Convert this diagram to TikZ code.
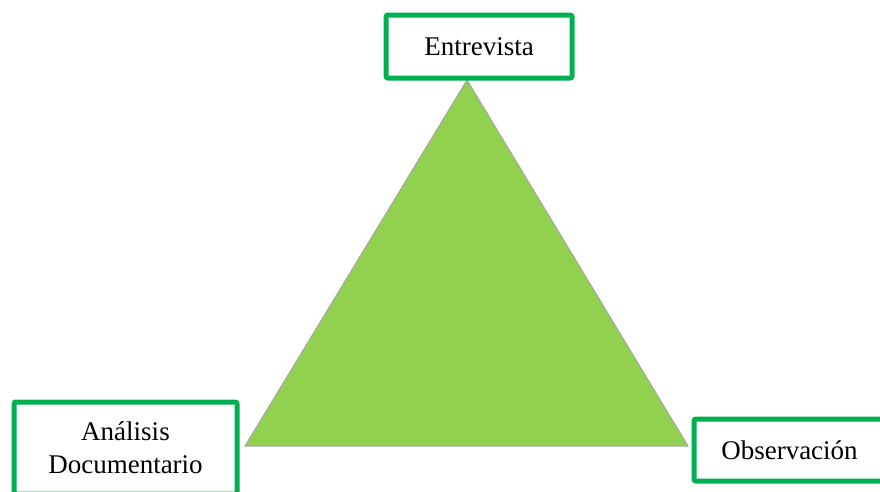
\documentclass[tikz,border=0pt]{standalone}
\usepackage{fontspec}
\setmainfont{Liberation Serif}
\definecolor{boxgreen}{HTML}{00B050}
\definecolor{trifill}{HTML}{92D050}
\definecolor{triedge}{HTML}{A6A6A6}
\begin{document}
\begin{tikzpicture}[x=1pt,y=-1pt,
  labelbox/.style={draw=boxgreen, line width=5pt, rounded corners=2pt, fill=white,
    inner sep=0pt, align=center, font=\fontsize{27}{33}\selectfont}]
  \useasboundingbox (0,0) rectangle (880,491);
  % triangle of the three methods
  \coordinate (top) at (467,80);
  \coordinate (left) at (245,446);
  \coordinate (right) at (688,446);
  \filldraw[fill=trifill, draw=triedge, line width=1pt, line join=miter] (top) -- (right) -- (left) -- cycle;
  % labels at the corners
  \node[labelbox, minimum width=186pt, minimum height=63pt] (ent) at (479,46.5) {Entrevista};
  \node[labelbox, minimum width=223pt, minimum height=92pt] (ana) at (125.5,448) {Análisis\\Documentario};
  \node[labelbox, minimum width=191pt, minimum height=62pt] (obs) at (789.5,450) {Observación};
\end{tikzpicture}
\end{document}
